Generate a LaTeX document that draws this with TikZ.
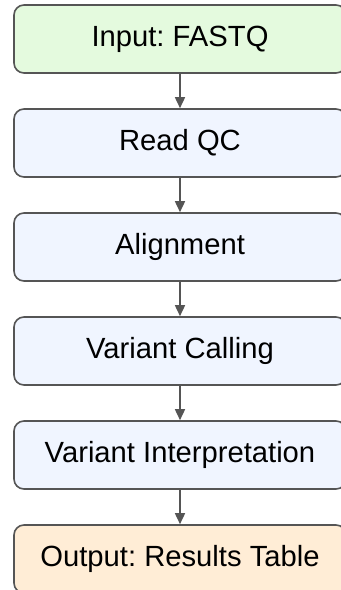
\documentclass[tikz,border=0pt]{standalone}
\usepackage{fontspec}
\setmainfont{Liberation Sans}
\frenchspacing
\usetikzlibrary{positioning,arrows.meta}
\definecolor{inputfill}{RGB}{228,250,222}
\definecolor{stepfill}{RGB}{240,245,255}
\definecolor{outputfill}{RGB}{255,237,214}
\definecolor{edgegray}{RGB}{85,85,85}
\begin{document}
\begin{tikzpicture}[
    stepbox/.style={draw=edgegray, line width=0.8pt, fill=stepfill, rounded corners=5pt,
      minimum width=166pt, minimum height=34pt, inner sep=0pt,
      font=\fontsize{14.6}{17}\selectfont},
    flow/.style={draw=edgegray, line width=0.8pt, -{Triangle[length=5.5pt,width=5pt]}},
    node distance=17.2pt
  ]
      \useasboundingbox (0,0) rectangle (170.5pt,-295pt);
      \node[stepbox, fill=inputfill] (fastq) at (90pt,-19.5pt) {Input: FASTQ};
      \node[stepbox, below=of fastq] (qc) {Read QC};
      \node[stepbox, below=of qc] (align) {Alignment};
      \node[stepbox, below=of align] (calling) {Variant Calling};
      \node[stepbox, below=of calling] (interp) {Variant Interpretation};
      \node[stepbox, fill=outputfill, below=of interp] (results) {Output: Results Table};
      \draw[flow] (fastq) -- (qc);
      \draw[flow] (qc) -- (align);
      \draw[flow] (align) -- (calling);
      \draw[flow] (calling) -- (interp);
      \draw[flow] (interp) -- (results);
    \end{tikzpicture}
\end{document}
